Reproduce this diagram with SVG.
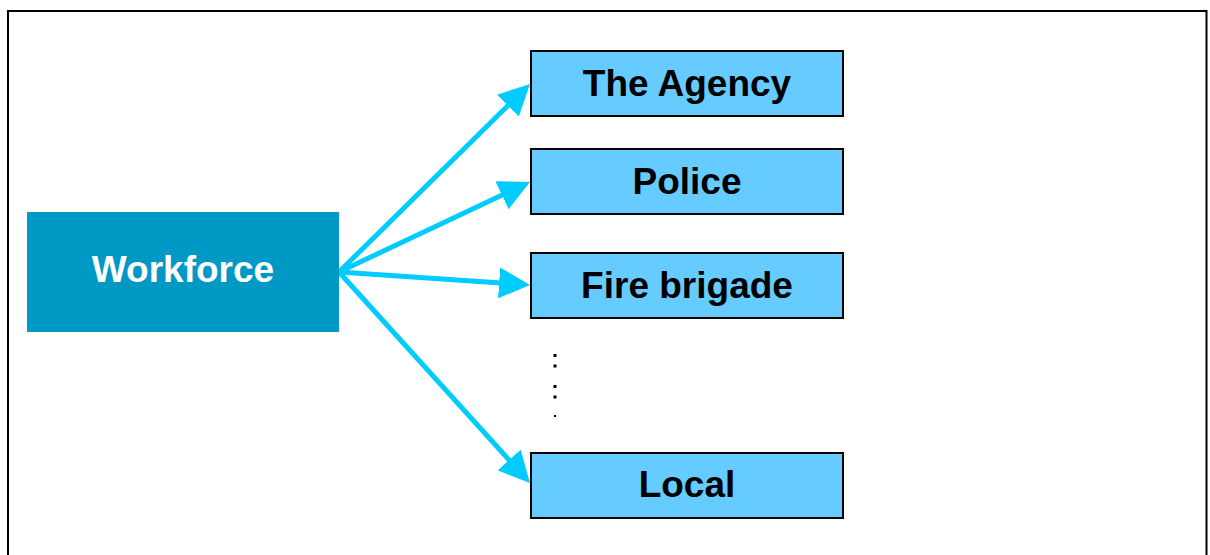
<svg xmlns="http://www.w3.org/2000/svg" width="1210" height="555" viewBox="0 0 1210 555">
  <style>
    .frame { fill: #ffffff; stroke: #000000; stroke-width: 2; }
    .target rect { fill: #66CCFF; stroke: #000000; stroke-width: 2; }
    .label { font-family: "Liberation Sans", Arial, sans-serif; font-weight: bold; font-size: 37px; text-anchor: middle; }
    .target text { fill: #000000; }
    .source rect { fill: #0099C6; }
    .source text { fill: #ffffff; }
    .link { stroke: #00CCFF; stroke-width: 5; fill: none; marker-end: url(#head); }
    .dot { fill: #000000; }
  </style>
  <defs>
    <marker id="head" markerUnits="userSpaceOnUse" markerWidth="31" markerHeight="31" refX="2" refY="15.5" orient="auto">
      <path d="M0,0 L31,15.5 L0,31 Z" fill="#00CCFF"/>
    </marker>
  </defs>

  <!-- outer frame -->
  <rect class="frame" x="8" y="11" width="1198.5" height="560"/>

  <!-- connectors from the source node -->
  <g id="connectors">
    <line class="link" x1="339" y1="272" x2="509.3" y2="104.3"/>
    <line class="link" x1="339" y1="272" x2="503.8" y2="194.3"/>
    <line class="link" x1="339" y1="272" x2="501.1" y2="283.0"/>
    <line class="link" x1="339" y1="272" x2="510.5" y2="461.5"/>
  </g>

  <g id="workforce" class="source">
    <rect x="27" y="212" width="312" height="120"/>
    <text class="label" x="183" y="282">Workforce</text>
  </g>

  <g id="agency" class="target">
    <rect x="531" y="51" width="312" height="65"/>
    <text class="label" x="687" y="96">The Agency</text>
  </g>

  <g id="police" class="target">
    <rect x="531" y="149" width="312" height="65"/>
    <text class="label" x="687" y="194">Police</text>
  </g>

  <g id="fire-brigade" class="target">
    <rect x="531" y="253" width="312" height="65"/>
    <text class="label" x="687" y="298">Fire brigade</text>
  </g>

  <g id="local" class="target">
    <rect x="531" y="453" width="312" height="65"/>
    <text class="label" x="687" y="497">Local</text>
  </g>

  <!-- vertical ellipsis between the listed targets -->
  <g id="ellipsis">
    <rect class="dot" x="553.5" y="354" width="3" height="3"/>
    <rect class="dot" x="553.5" y="364.5" width="3" height="3"/>
    <rect class="dot" x="553.5" y="385" width="3" height="3"/>
    <rect class="dot" x="553.5" y="395.5" width="3" height="3"/>
    <rect class="dot" x="554" y="415" width="2" height="2"/>
  </g>
</svg>
